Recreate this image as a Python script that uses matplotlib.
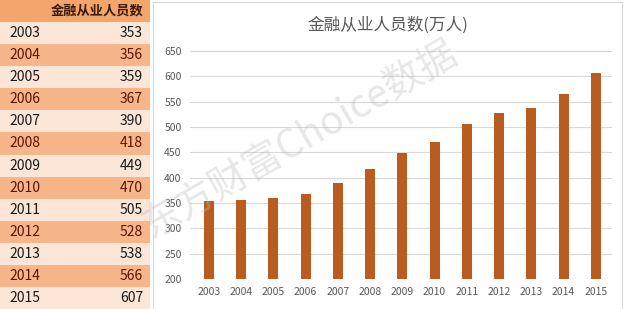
import matplotlib.pyplot as plt
from matplotlib.patches import Rectangle

plt.rcParams['font.family'] = ['Noto Sans CJK SC', 'DejaVu Sans']

years = ['2003', '2004', '2005', '2006', '2007', '2008', '2009',
         '2010', '2011', '2012', '2013', '2014', '2015']
staff = [353, 356, 359, 367, 390, 418, 449, 470, 505, 528, 538, 566, 607]
header = '金融从业人员数'
title = '金融从业人员数(万人)'
watermark = '东方财富Choice数据'

fig = plt.figure(figsize=(6.28, 3.09), dpi=100)
fig.patch.set_facecolor('white')

# 左侧表格
tab = fig.add_axes([0, 0, 150 / 628, 1])
n = len(years) + 1
tab.set_xlim(0, 150)
tab.set_ylim(n, 0)
tab.axis('off')
tab.axhspan(0, 1, color='#F4A56C', lw=0)
tab.text(143, 0.5, header, ha='right', va='center', fontsize=9.5,
         fontweight='bold', color='#3a1a08')
for i, (yr, v) in enumerate(zip(years, staff)):
    row = i + 1
    dark = i % 2 == 1
    tab.axhspan(row, row + 1, color='#F7B68A' if dark else '#FCE6D7', lw=0)
    tc = '#5a1505' if dark else '#1a1a1a'
    tab.text(9, row + 0.5, yr, ha='left', va='center', fontsize=10, color=tc)
    tab.text(143, row + 0.5, str(v), ha='right', va='center', fontsize=10, color=tc)

# 图表边框
fig.patches.append(Rectangle((153 / 628, -0.1), (622 - 153) / 628, 1.1 - 2 / 309,
                             transform=fig.transFigure, fill=False,
                             edgecolor='#D9D9D9', lw=0.8))

ax = fig.add_axes([190 / 628, 30 / 309, 422 / 628, 228 / 309])
x = list(range(len(years)))
ax.bar(x, [v - 200 for v in staff], bottom=200, width=0.31, color='#B85D1F', zorder=3)
ax.set_ylim(200, 650)
ax.set_xlim(-0.58, 12.5)
ax.set_yticks(range(200, 651, 50))
ax.set_xticks(x)
ax.set_xticklabels(years)
ax.grid(axis='y', color='#D9D9D9', lw=0.8, zorder=0)
for s in ax.spines.values():
    s.set_visible(False)
ax.tick_params(length=0, labelsize=7.5, labelcolor='#595959', pad=6)
ax.tick_params(axis='y', pad=6)
fig.text(388 / 628, 1 - 25 / 309, title, ha='center', va='center',
         fontsize=12, color='#595959')

# 水印
fig.text(300 / 628, 0.55, watermark, ha='center', va='center', fontsize=28,
         color='#BBBBBB', alpha=0.35, rotation=30)

plt.savefig('out.png', dpi=100)
